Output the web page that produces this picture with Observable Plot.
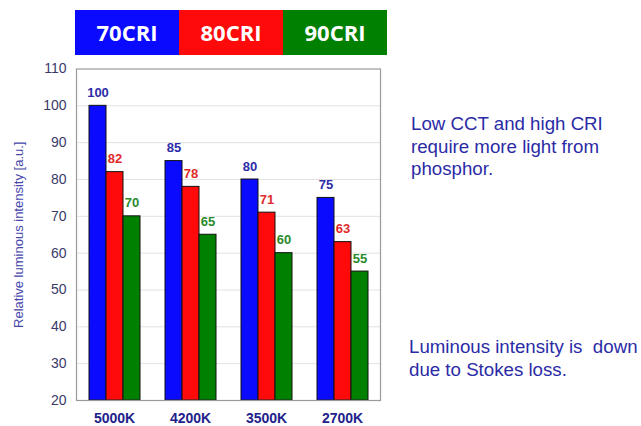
<!DOCTYPE html>
<html>
<head>
<meta charset="utf-8">
<script src="https://cdn.jsdelivr.net/npm/d3@7"></script>
<script src="https://cdn.jsdelivr.net/npm/@observablehq/plot@0.6"></script>
<style>
  html, body { margin: 0; padding: 0; background: #fff; }
  #wrap { position: relative; width: 641px; height: 426px; font-family: "Liberation Sans", Arial, sans-serif; }
  #legend { position: absolute; left: 75px; top: 10px; display: flex; height: 45px; }
  #legend div { width: 104px; height: 45px; line-height: 45px; text-align: center; color: #fff;
    font-family: "Open Sans", sans-serif; font-weight: 700; font-size: 22px; }
  #chart { position: absolute; left: 0; top: 55px; }
  .note { position: absolute; color: #2b2ba6; font-size: 18.7px; line-height: 22.5px; }
</style>
</head>
<body>
<div id="wrap">
  <div id="legend"></div>
  <div id="chart"></div>
  <div class="note" style="left:411px; top:113px;">Low CCT and high CRI<br>require more light from<br>phosphor.</div>
  <div class="note" style="left:409px; top:336px;">Luminous intensity is&nbsp; down<br>due to Stokes loss.</div>
</div>
<script>
const cct = ["5000K", "4200K", "3500K", "2700K"];
const cri = ["70CRI", "80CRI", "90CRI"];
const v70 = [100, 85, 80, 75];
const v80 = [82, 78, 71, 63];
const v90 = [70, 65, 60, 55];
const yTicks = [20, 30, 40, 50, 60, 70, 80, 90, 100, 110];
const gridTicks = [30, 40, 50, 60, 70, 80, 90, 100];
const yLabel = "Relative luminous intensity [a.u.]";

const barColor = {"70CRI": "#0a0aff", "80CRI": "#ff0a0a", "90CRI": "#008000"};
const labelColor = {"70CRI": "#2c2ca8", "80CRI": "#e02a2a", "90CRI": "#2a8a2a"};

const series = [v70, v80, v90];
const rows = [];
cct.forEach((t, i) => cri.forEach((c, j) => rows.push({cct: t, cri: c, value: series[j][i]})));

const legend = document.getElementById("legend");
cri.forEach(c => {
  const d = document.createElement("div");
  d.textContent = c;
  d.style.background = barColor[c];
  legend.appendChild(d);
});

const chart = Plot.plot({
  width: 400,
  height: 371,
  marginTop: 13.5,
  marginBottom: 26,
  marginLeft: 75,
  marginRight: 18.3,
  style: {fontFamily: "Liberation Sans, Arial, sans-serif", background: "transparent"},
  fx: {domain: cct, padding: 0, label: null},
  x: {domain: cri, paddingInner: 0, paddingOuter: 0.71, axis: null},
  y: {domain: [20, 110], clamp: true, axis: null},
  color: {type: "identity"},
  marks: [
    Plot.ruleY(gridTicks, {stroke: "#e2e2e2", strokeWidth: 1}),
    Plot.barY(rows, {fx: "cct", x: "cri", y: "value", fill: d => barColor[d.cri], stroke: "#111", strokeWidth: 1}),
    Plot.text(rows, {fx: "cct", x: "cri", y: "value", text: d => String(d.value), fill: d => labelColor[d.cri],
      lineAnchor: "bottom", dy: -9, fontSize: 13, fontWeight: "bold"}),
    Plot.frame({stroke: "#9a9a9a", strokeWidth: 1.2, facet: "super"}),
    Plot.axisY(yTicks, {tickSize: 0, tickPadding: 10, fontSize: 14, color: "#3a3a6a", label: null}),
    Plot.axisY({ticks: [], tickSize: 0, label: yLabel, labelAnchor: "center", labelArrow: "none", labelOffset: 63, fontSize: 13, color: "#4646ac"}),
    Plot.axisFx({anchor: "bottom", tickSize: 0, tickPadding: 13, fontSize: 14, fontWeight: "bold", color: "#22228a", label: null})
  ]
});
document.getElementById("chart").appendChild(chart);
</script>
</body>
</html>
